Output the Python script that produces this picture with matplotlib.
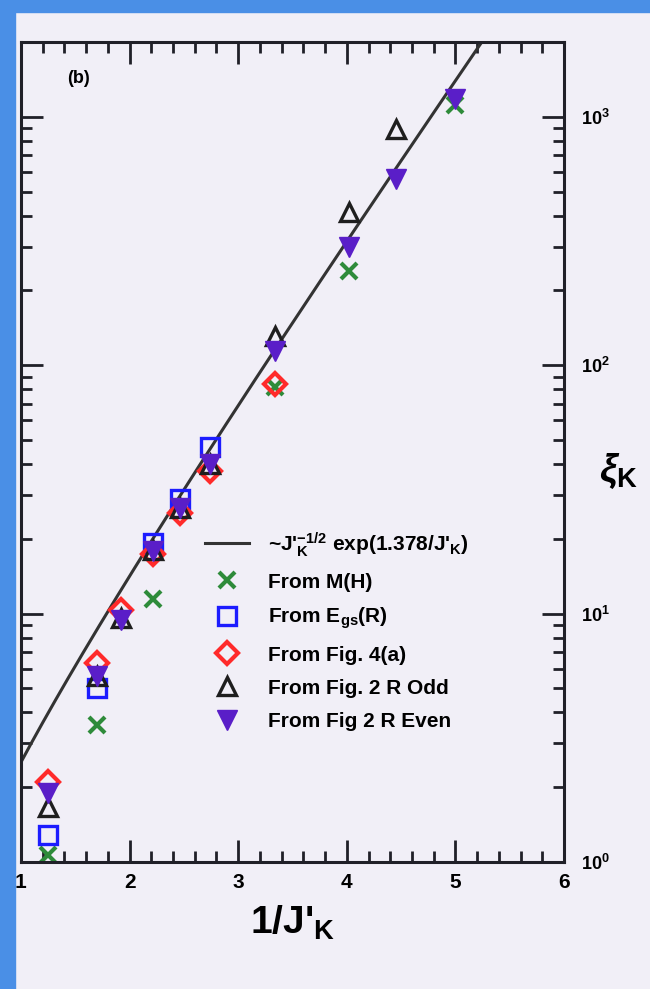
import numpy as np
import matplotlib
matplotlib.use("Agg")
import matplotlib.pyplot as plt
from matplotlib.ticker import MultipleLocator, LogLocator, NullFormatter
from matplotlib.patches import Rectangle

plt.rcParams['font.family'] = ['Liberation Sans', 'DejaVu Sans']
plt.rcParams['font.weight'] = 'bold'
plt.rcParams['mathtext.fontset'] = 'custom'
plt.rcParams['mathtext.rm'] = 'Liberation Sans:bold'
plt.rcParams['mathtext.bf'] = 'Liberation Sans:bold'
plt.rcParams['mathtext.it'] = 'Liberation Sans:bold:italic'

# data (x = 1/J'_K, y = xi_K)
x_mh = [1.25, 1.70, 2.22, 3.34, 4.02, 5.0]
y_mh = [1.07, 3.55, 11.5, 82, 240, 1120]

x_egs = [1.25, 1.70, 2.22, 2.46, 2.74]
y_egs = [1.28, 5.0, 19.3, 29, 47]

x_fig4 = [1.25, 1.70, 1.92, 2.22, 2.46, 2.74, 3.34]
y_fig4 = [2.1, 6.3, 10.3, 17.4, 25.5, 37.5, 84]

x_odd = [1.25, 1.70, 1.92, 2.22, 2.46, 2.74, 3.34, 4.02, 4.45]
y_odd = [1.66, 5.6, 9.6, 18, 26.5, 40, 131, 415, 890]

x_even = [1.25, 1.70, 1.92, 2.22, 2.46, 2.74, 3.34, 4.02, 4.45, 5.0]
y_even = [1.89, 5.63, 9.4, 17.9, 26.5, 40, 114, 300, 560, 1180]

fit_pref = 0.636
fit_coef = 1.378

bg = '#f1eff7'
fig = plt.figure(figsize=(6.5, 9.89), dpi=100, facecolor=bg)
# blue screen edge on the left and top
fig.patches.append(Rectangle((0, 0), 15 / 650, 1, transform=fig.transFigure,
                             color='#4a8fe6', zorder=0))
fig.patches.append(Rectangle((0, 1 - 12 / 989), 1, 12 / 989, transform=fig.transFigure,
                             color='#4a8fe6', zorder=0))

ax = fig.add_axes([21 / 650, 1 - 862 / 989, 543 / 650, 820 / 989])
ax.set_facecolor(bg)
ax.set_yscale('log')
ax.set_xlim(1, 6)
ax.set_ylim(1, 2000)

xx = np.linspace(1, 6, 300)
ax.plot(xx, fit_pref * np.sqrt(xx) * np.exp(fit_coef * xx), color='#333333', lw=2.2,
        label=r"~J'$_\mathbf{K}^\mathbf{-1/2}$ exp(1.378/J'$_\mathbf{K}$)")
ax.plot(x_mh, y_mh, 'x', color='#2e8b3a', ms=12, mew=3, ls='none', label='From M(H)')
ax.plot(x_egs, y_egs, 's', mfc='none', mec='#1c1cff', ms=13, mew=2.4, ls='none',
        label=r'From E$_\mathbf{gs}$(R)')
ax.plot(x_fig4, y_fig4, 'D', mfc='none', mec='#ff2a2a', ms=11, mew=3, ls='none',
        label='From Fig. 4(a)')
ax.plot(x_odd, y_odd, '^', mfc='none', mec='#1e1e1e', ms=13, mew=2.4, ls='none',
        label='From Fig. 2 R Odd')
ax.plot(x_even, y_even, 'v', color='#5a1ec8', ms=14, ls='none', label='From Fig 2 R Even')

for s in ax.spines.values():
    s.set_linewidth(2.2)
    s.set_color('#202028')

ax.xaxis.set_major_locator(MultipleLocator(1))
ax.xaxis.set_minor_locator(MultipleLocator(0.2))
ax.yaxis.set_major_locator(LogLocator(base=10))
ax.yaxis.set_minor_locator(LogLocator(base=10, subs=np.arange(2, 10)))
ax.yaxis.set_minor_formatter(NullFormatter())
ax.tick_params(which='both', direction='in', top=True, bottom=True, left=True, right=True,
               labelleft=False, labelright=True, color='#202028')
ax.tick_params(which='major', length=16, width=2)
ax.tick_params(which='minor', length=8, width=2)
ax.tick_params(axis='x', labelsize=15, pad=8)
ax.tick_params(axis='y', labelsize=13, pad=12)

ax.set_xlabel(r"1/J'$_\mathbf{K}$", fontsize=28, fontweight='bold', labelpad=8)
ax.yaxis.set_label_position('right')
ax.set_ylabel(r'$\xi_\mathbf{K}$', fontsize=28, rotation=0)
ax.yaxis.set_label_coords(1.1, 0.5)

ax.text(0.105, 0.955, '(b)', transform=ax.transAxes, fontsize=13, fontweight='bold',
        ha='center', va='center')

leg = ax.legend(loc='upper left', bbox_to_anchor=(0.339, 0.405), frameon=False,
                fontsize=15, handlelength=2.1, handletextpad=0.9, labelspacing=0.68,
                borderpad=0, borderaxespad=0)

fig.savefig('out.png', dpi=100, facecolor=bg)
